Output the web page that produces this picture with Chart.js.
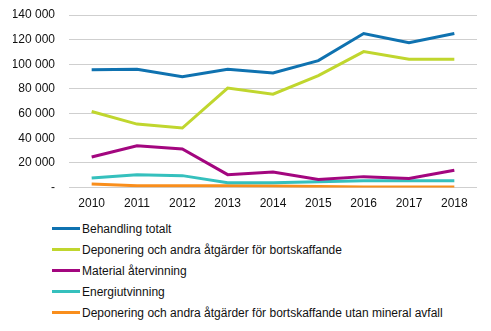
<!DOCTYPE html>
<html lang="sv">
<head>
    <meta charset="UTF-8">
    <title>Behandling av avfall</title>
    <style>
        * { margin: 0; padding: 0; box-sizing: border-box; }
        body { background: #fff; font-family: Arial, "Liberation Sans", sans-serif; }
        .chart-box { position: relative; width: 491px; height: 220px; }
        #legend { list-style: none; margin-left: 52px; margin-top: -2px; }
        #legend li { display: flex; align-items: center; height: 21px; font-size: 12px; color: #111; }
        #legend span.swatch { display: inline-block; width: 28px; height: 3px; margin-right: 2px; }
    </style>
    <script src="https://cdn.jsdelivr.net/npm/chart.js"></script>
</head>
<body>
    <div class="chart-box"><canvas id="lineChart"></canvas></div>
    <ul id="legend"></ul>

    <script>
        // data
        const years = ['2010', '2011', '2012', '2013', '2014', '2015', '2016', '2017', '2018'];
        const behandlingTotalt = [95500, 96000, 90000, 96000, 93000, 103000, 125000, 117500, 125000];
        const deponering = [61700, 51500, 48300, 80700, 75800, 90900, 110300, 104100, 104100];
        const materialAtervinning = [24800, 34000, 31300, 10500, 12700, 6500, 8900, 7300, 14000];
        const energiutvinning = [7800, 10500, 9700, 4000, 4000, 4800, 5600, 5600, 5600];
        const deponeringUtanMineral = [3000, 1600, 1600, 1500, 1200, 800, 500, 400, 400];
        const seriesNames = [
            'Behandling totalt',
            'Deponering och andra åtgärder för bortskaffande',
            'Material återvinning',
            'Energiutvinning',
            'Deponering och andra åtgärder för bortskaffande utan mineral avfall'
        ];
        const yTicks = [0, 20000, 40000, 60000, 80000, 100000, 120000, 140000];

        const colors = ['#0f72b0', '#c0d62e', '#a3067f', '#35c0bd', '#f98e1c'];
        const allSeries = [behandlingTotalt, deponering, materialAtervinning, energiutvinning, deponeringUtanMineral];
        const tickFont = { family: 'Arial, "Liberation Sans", sans-serif', size: 12 };

        function fmt(v) {
            if (v === 0) return '-';
            return String(v).replace(/\B(?=(\d{3})+(?!\d))/g, ' ');
        }

        const datasets = allSeries.map((d, i) => ({
            label: seriesNames[i],
            data: d,
            borderColor: colors[i],
            backgroundColor: colors[i],
            borderWidth: 3,
            pointRadius: 0,
            tension: 0,
            order: i
        }));

        new Chart(document.getElementById('lineChart'), {
            type: 'line',
            data: { labels: years, datasets: datasets },
            options: {
                responsive: true,
                maintainAspectRatio: false,
                animation: false,
                layout: { autoPadding: false, padding: { left: 13, right: 14, top: 15, bottom: 0 } },
                plugins: { legend: { display: false }, tooltip: { enabled: false } },
                scales: {
                    x: {
                        offset: true,
                        grid: { display: false, drawTicks: false },
                        border: { display: false },
                        ticks: { color: '#111', font: tickFont, padding: 9, maxRotation: 0 }
                    },
                    y: {
                        min: 0,
                        max: 140000,
                        afterBuildTicks: axis => { axis.ticks = yTicks.map(v => ({ value: v })); },
                        afterFit: axis => {
                            axis.width = 56;
                            axis.paddingTop = 0;
                            axis.paddingBottom = 0;
                        },
                        grid: { color: '#cfcfcf', drawTicks: false, lineWidth: 1 },
                        border: { display: false },
                        ticks: { color: '#111', font: tickFont, padding: 14, callback: v => fmt(v) }
                    }
                }
            }
        });

        // legend
        const legend = document.getElementById('legend');
        seriesNames.forEach((name, i) => {
            const li = document.createElement('li');
            li.innerHTML = '<span class="swatch" style="background:' + colors[i] + '"></span>' + name;
            legend.appendChild(li);
        });
    </script>
</body>
</html>
